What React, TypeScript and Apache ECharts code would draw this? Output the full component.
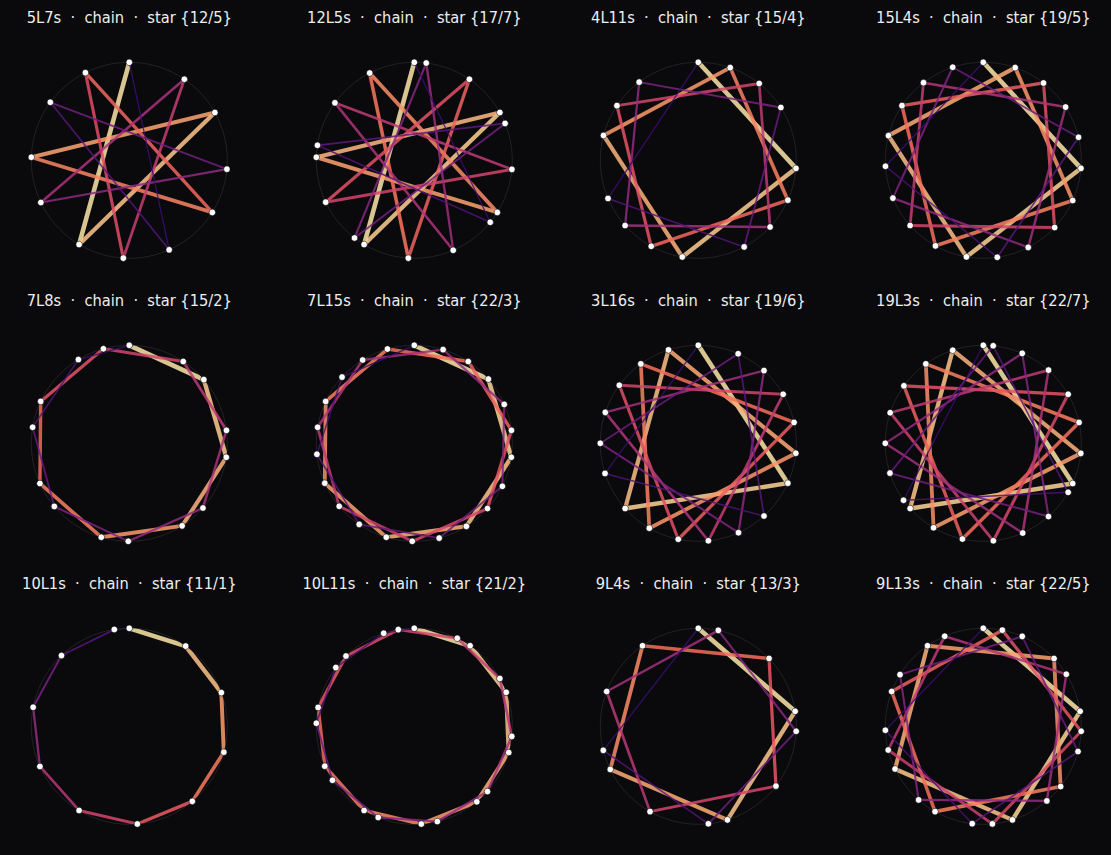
import React, { useEffect, useRef } from "react";
import * as echarts from "echarts";

const titles = [
  "5L7s  ·  chain  ·  star {12/5}",
  "12L5s  ·  chain  ·  star {17/7}",
  "4L11s  ·  chain  ·  star {15/4}",
  "15L4s  ·  chain  ·  star {19/5}",
  "7L8s  ·  chain  ·  star {15/2}",
  "7L15s  ·  chain  ·  star {22/3}",
  "3L16s  ·  chain  ·  star {19/6}",
  "19L3s  ·  chain  ·  star {22/7}",
  "10L1s  ·  chain  ·  star {11/1}",
  "10L11s  ·  chain  ·  star {21/2}",
  "9L4s  ·  chain  ·  star {13/3}",
  "9L13s  ·  chain  ·  star {22/5}",
];

// Angle (degrees clockwise from the top) of each note, in chain order.
const chain5L7s = [0, 210.8, 60.8, 271.8, 122.1, 333.4, 183.5, 34.2, 244.5, 95.2, 306.3, 156];
const chain12L5s = [0, 210.8, 60.8, 271.8, 122.1, 332.9, 183.5, 34.2, 244.7, 95.3, 305.9, 156.6, 7, 217.6, 67.9, 278.8, 129.2];
const chain4L11s = [0, 94.7, 189.4, 284.7, 19, 114, 208.7, 303.9, 38.4, 132.9, 228.3, 322.9, 57.4, 152.1, 247.1];
const chain15L4s = [0, 94.7, 189.9, 284.6, 19, 114.2, 209.2, 303.9, 37.9, 133.3, 228.3, 322.4, 57.1, 152.7, 247.3, 341.8, 76.4, 171.8, 266.5];
const chain7L8s = [0, 49.5, 98.2, 147.4, 196.6, 245.8, 295.3, 344.7, 33.4, 82.4, 131.3, 180.6, 229.9, 279.4, 328.7];
const chain7L15s = [0, 49.1, 98.2, 147.9, 196.6, 246, 295.3, 344.1, 33.4, 82.4, 131.7, 181.2, 230, 279.4, 328.2, 17.1, 66.6, 116, 165.3, 214.2, 263.6, 312.5];
const chain3L16s = [0, 114, 228.3, 342.3, 95.8, 210, 324.1, 77.7, 191.8, 306.3, 60, 174.1, 288.4, 42.1, 155.8, 270, 24, 137.9, 252.1];
const chain19L3s = [0, 114.2, 228.3, 341.8, 95.9, 210.5, 324.1, 77.7, 192.3, 305.9, 60, 174.1, 288.2, 41.7, 156.3, 270, 23.4, 138.3, 252.3, 5.8, 120, 234.5];
const chain10L1s = [0, 35.1, 69.9, 105.3, 140, 175.3, 210.8, 245.8, 281.2, 316.2, 351.2];
const chain10L11s = [0, 34.7, 69.7, 105.5, 140.4, 175.9, 210.8, 246, 281.1, 315.8, 350.6, 26, 60.8, 95.9, 131.7, 166.4, 201.6, 236.6, 271.8, 306.8, 341.8];
const chain9L4s = [0, 81.2, 162.7, 243.9, 325.3, 46.2, 127.6, 209.5, 290.8, 11.8, 92.9, 174.1, 255.8];
const chain9L13s = [0, 81.2, 162.7, 244.2, 325.3, 46.2, 127.9, 209.5, 290.8, 11.2, 92.9, 174.7, 256, 336.8, 57.9, 139.6, 221.3, 301.8, 23.4, 104.9, 186.5, 267.7];

const chains = [
  chain5L7s, chain12L5s, chain4L11s, chain15L4s,
  chain7L8s, chain7L15s, chain3L16s, chain19L3s,
  chain10L1s, chain10L11s, chain9L4s, chain9L13s,
];

const BG = "#0a0a0d";
const RING = "#222226";
const colX = [129.3, 414.3, 698.3, 983.3];
const rowY = [160.3, 443.3, 726.3];
const RADIUS = 98;
const TITLE_Y = [9, 292, 575];

const MAGMA = [
  [0.2, 59, 15, 112], [0.3, 100, 26, 128], [0.4, 140, 41, 129], [0.5, 183, 55, 121],
  [0.6, 222, 73, 104], [0.7, 247, 111, 92], [0.8, 254, 159, 109], [0.9, 254, 207, 146],
  [1.0, 252, 253, 191],
];

function magma(t: number) {
  for (let i = 0; i < MAGMA.length - 1; i++) {
    const a = MAGMA[i], b = MAGMA[i + 1];
    if (t <= b[0]) {
      const f = Math.max(0, (t - a[0]) / (b[0] - a[0]));
      const c = [1, 2, 3].map((k) => Math.round(a[k] + (b[k] - a[k]) * f));
      return `rgb(${c[0]},${c[1]},${c[2]})`;
    }
  }
  const l = MAGMA[MAGMA.length - 1];
  return `rgb(${l[1]},${l[2]},${l[3]})`;
}

function buildOption() {
  const polar: any[] = [], angleAxis: any[] = [], radiusAxis: any[] = [], title: any[] = [], series: any[] = [];
  chains.forEach((chain, p) => {
    const cx = colX[p % 4], cy = rowY[Math.floor(p / 4)];
    polar.push({ center: [cx, cy], radius: RADIUS });
    angleAxis.push({
      polarIndex: p, type: "value", min: 0, max: 360, startAngle: 90, clockwise: true,
      axisLine: { show: true, lineStyle: { color: RING, width: 1 } },
      axisTick: { show: false }, axisLabel: { show: false }, splitLine: { show: false },
    });
    radiusAxis.push({
      polarIndex: p, type: "value", min: 0, max: 1, show: false,
      axisLine: { show: false }, axisTick: { show: false }, axisLabel: { show: false }, splitLine: { show: false },
    });
    title.push({
      text: titles[p], left: cx, top: TITLE_Y[Math.floor(p / 4)], textAlign: "center", padding: 0,
      textStyle: { color: "#eeeeee", fontFamily: "DejaVu Sans Condensed", fontSize: 16.3, fontWeight: "normal" },
    });
    const n = chain.length;
    chain.forEach((a, i) => {
      const b = chain[(i + 1) % n];
      const f = i / (n - 1);
      series.push({
        type: "line", coordinateSystem: "polar", polarIndex: p, clip: false, silent: true,
        symbol: "none", z: 2,
        data: [[1, a], [1, b]],
        lineStyle: { color: magma(0.95 - 0.75 * f), width: 4.6 - 3.3 * f, opacity: 0.85, cap: "butt" },
      });
    });
    series.push({
      type: "scatter", coordinateSystem: "polar", polarIndex: p, clip: false, silent: true, z: 5,
      symbolSize: 6.5,
      data: chain.map((a) => [1, a]),
      itemStyle: { color: "#ffffff", borderColor: BG, borderWidth: 0.6, opacity: 1 },
    });
  });
  return { animation: false, backgroundColor: BG, tooltip: { show: false }, title, polar, angleAxis, radiusAxis, series };
}

export default function App() {
  const ref = useRef<HTMLDivElement>(null);
  useEffect(() => {
    document.body.style.margin = "0";
    document.body.style.background = BG;
    const chart = echarts.init(ref.current!, undefined, { renderer: "svg" });
    chart.setOption(buildOption() as any);
    return () => chart.dispose();
  }, []);
  return <div ref={ref} style={{ width: 1111, height: 855 }} />;
}
